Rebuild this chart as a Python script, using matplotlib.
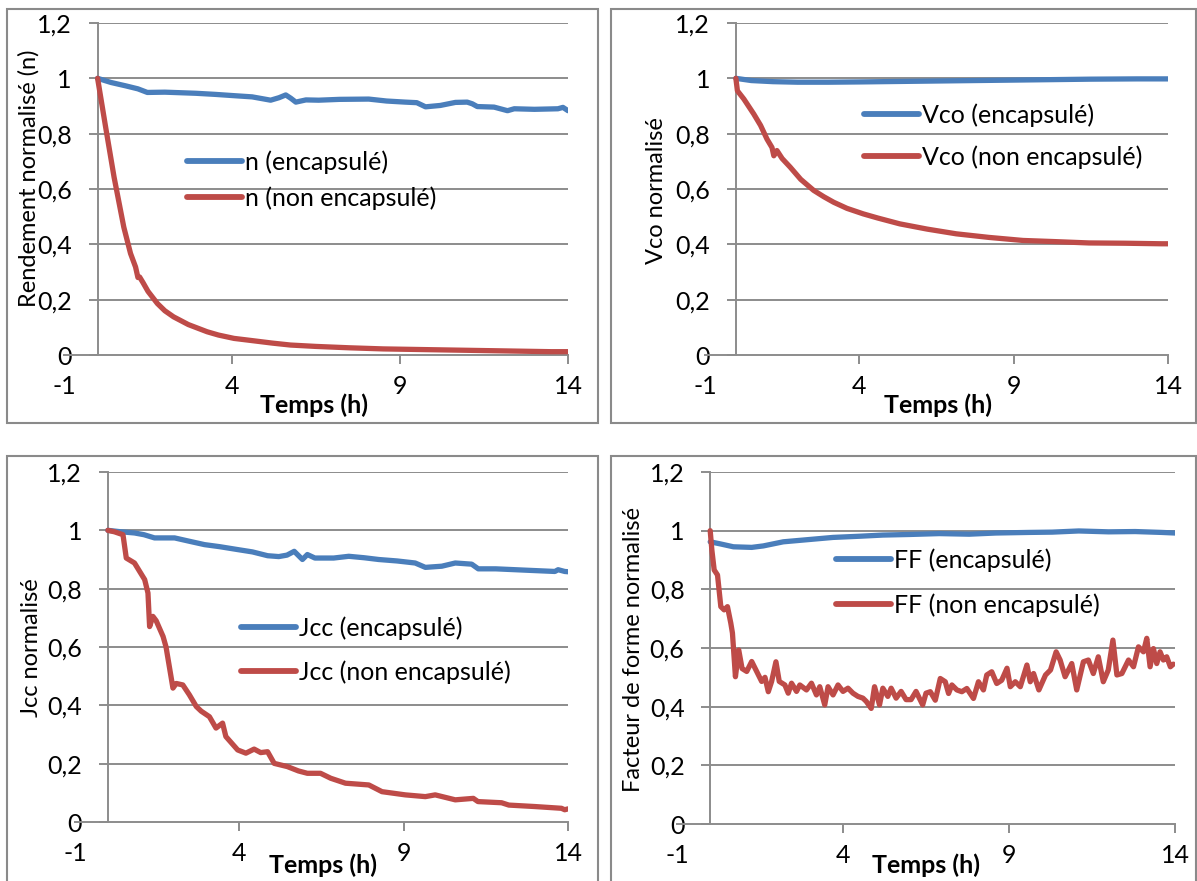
import matplotlib
matplotlib.use("Agg")
import matplotlib.pyplot as plt
from matplotlib.patches import Rectangle

plt.rcParams['font.family'] = ['Lato', 'DejaVu Sans']

BLUE = '#4a7ebb'
RED = '#be4b48'
GRID = '#8c8c8c'

# --- data (time in hours, normalised values) ---
n_enc_t = [0, 0.4, 0.83, 1.2, 1.48, 2.0, 2.92, 3.5, 4.1, 4.6, 5.15, 5.4, 5.6, 5.75, 5.9, 6.2, 6.58, 7.2, 8.07, 8.6, 9.16, 9.5, 9.76, 10.2, 10.65, 11.0, 11.15, 11.3, 11.8, 12.2, 12.4, 13.0, 13.7, 13.85, 14.0]
n_enc = [1.0, 0.985, 0.973, 0.962, 0.949, 0.950, 0.946, 0.942, 0.937, 0.933, 0.921, 0.930, 0.940, 0.928, 0.914, 0.922, 0.921, 0.924, 0.925, 0.918, 0.914, 0.912, 0.897, 0.902, 0.913, 0.914, 0.908, 0.898, 0.896, 0.883, 0.890, 0.888, 0.890, 0.895, 0.883]
n_non_t = [0, 0.24, 0.49, 0.78, 0.98, 1.13, 1.2, 1.25, 1.35, 1.5, 1.78, 2.0, 2.26, 2.7, 3.26, 3.6, 4.06, 4.6, 5.2, 5.74, 6.5, 7.5, 8.5, 9.5, 10.5, 11.5, 12.5, 13.5, 14.0]
n_non = [1.0, 0.823, 0.643, 0.462, 0.367, 0.318, 0.28, 0.282, 0.262, 0.23, 0.186, 0.16, 0.138, 0.11, 0.084, 0.072, 0.060, 0.052, 0.043, 0.036, 0.031, 0.026, 0.022, 0.020, 0.018, 0.016, 0.014, 0.012, 0.012]

vco_enc_t = [0, 0.5, 1.2, 2.0, 3.0, 4.0, 5.5, 7.0, 8.5, 10.0, 11.5, 13.0, 14.0]
vco_enc = [1.0, 0.992, 0.988, 0.986, 0.986, 0.987, 0.989, 0.991, 0.993, 0.995, 0.997, 0.998, 0.998]
vco_non_t = [0, 0.05, 0.26, 0.58, 0.8, 1.01, 1.17, 1.23, 1.33, 1.5, 1.76, 2.1, 2.52, 2.85, 3.17, 3.6, 4.13, 4.6, 5.31, 6.2, 7.14, 8.2, 9.3, 10.3, 11.44, 12.6, 13.8, 14.0]
vco_non = [1.0, 0.955, 0.925, 0.871, 0.83, 0.78, 0.75, 0.72, 0.739, 0.71, 0.679, 0.635, 0.595, 0.572, 0.552, 0.53, 0.51, 0.495, 0.474, 0.455, 0.438, 0.425, 0.414, 0.41, 0.405, 0.404, 0.402, 0.402]

jcc_enc_t = [0, 0.4, 0.81, 1.1, 1.42, 2.03, 2.5, 2.94, 3.4, 3.95, 4.4, 4.86, 5.2, 5.45, 5.67, 5.92, 6.07, 6.3, 6.87, 7.33, 7.8, 8.24, 8.8, 9.35, 9.66, 10.16, 10.57, 11.07, 11.27, 11.8, 12.79, 13.6, 13.7, 13.9, 14.0]
jcc_enc = [1.0, 0.995, 0.991, 0.985, 0.974, 0.974, 0.962, 0.951, 0.944, 0.934, 0.926, 0.913, 0.91, 0.915, 0.928, 0.90, 0.917, 0.905, 0.905, 0.911, 0.906, 0.90, 0.895, 0.888, 0.873, 0.877, 0.888, 0.884, 0.868, 0.868, 0.863, 0.859, 0.865, 0.859, 0.858]
jcc_non_t = [0, 0.2, 0.46, 0.56, 0.81, 1.12, 1.22, 1.27, 1.37, 1.47, 1.68, 1.77, 1.98, 2.08, 2.28, 2.48, 2.69, 2.84, 3.09, 3.29, 3.49, 3.59, 3.95, 4.2, 4.45, 4.65, 4.86, 5.06, 5.46, 5.8, 6.07, 6.47, 6.78, 7.23, 7.94, 8.34, 9.05, 9.66, 9.96, 10.57, 11.12, 11.26, 11.98, 12.2, 12.99, 13.8, 13.9, 14.0]
jcc_non = [1.0, 0.995, 0.985, 0.905, 0.888, 0.831, 0.785, 0.67, 0.705, 0.69, 0.636, 0.60, 0.459, 0.475, 0.47, 0.436, 0.396, 0.38, 0.361, 0.322, 0.339, 0.293, 0.247, 0.236, 0.25, 0.238, 0.241, 0.201, 0.19, 0.175, 0.167, 0.167, 0.15, 0.133, 0.127, 0.104, 0.093, 0.087, 0.093, 0.076, 0.081, 0.07, 0.066, 0.058, 0.053, 0.047, 0.042, 0.045]

ff_enc_t = [0, 0.3, 0.7, 1.25, 1.6, 2.2, 3.0, 3.7, 4.5, 5.2, 6.0, 6.9, 7.8, 8.6, 9.6, 10.3, 11.1, 12.0, 12.8, 13.6, 14.0]
ff_enc = [0.962, 0.955, 0.945, 0.943, 0.948, 0.962, 0.970, 0.977, 0.981, 0.985, 0.987, 0.99, 0.988, 0.992, 0.994, 0.995, 0.999, 0.996, 0.997, 0.994, 0.992]
ff_non_t = [0, 0.05, 0.12, 0.22, 0.32, 0.42, 0.52, 0.62, 0.67, 0.76, 0.86, 0.96, 1.1, 1.25, 1.4, 1.55, 1.65, 1.75, 1.85, 1.98, 2.08, 2.25, 2.35, 2.45, 2.6, 2.7, 2.9, 3.05, 3.2, 3.3, 3.45, 3.55, 3.7, 3.85, 4.0, 4.15, 4.3, 4.45, 4.6, 4.7, 4.85, 4.95, 5.1, 5.2, 5.35, 5.45, 5.6, 5.75, 5.9, 6.05, 6.2, 6.4, 6.5, 6.63, 6.78, 6.93, 7.08, 7.18, 7.28, 7.43, 7.58, 7.73, 7.93, 8.08, 8.23, 8.33, 8.48, 8.63, 8.78, 8.94, 9.04, 9.19, 9.34, 9.54, 9.64, 9.74, 9.9, 10.1, 10.25, 10.42, 10.54, 10.69, 10.89, 11.04, 11.24, 11.39, 11.54, 11.69, 11.84, 11.99, 12.13, 12.25, 12.4, 12.6, 12.75, 12.9, 13.05, 13.15, 13.25, 13.35, 13.45, 13.55, 13.65, 13.75, 13.86, 13.95]
ff_non = [1.0, 0.934, 0.866, 0.849, 0.741, 0.73, 0.741, 0.685, 0.651, 0.502, 0.593, 0.53, 0.52, 0.554, 0.52, 0.486, 0.50, 0.451, 0.486, 0.553, 0.486, 0.474, 0.446, 0.48, 0.452, 0.474, 0.457, 0.48, 0.44, 0.468, 0.406, 0.468, 0.44, 0.474, 0.452, 0.463, 0.446, 0.435, 0.429, 0.418, 0.394, 0.468, 0.406, 0.463, 0.435, 0.463, 0.429, 0.452, 0.424, 0.424, 0.452, 0.406, 0.446, 0.451, 0.422, 0.496, 0.485, 0.445, 0.474, 0.457, 0.451, 0.462, 0.428, 0.485, 0.457, 0.508, 0.519, 0.479, 0.49, 0.531, 0.468, 0.485, 0.468, 0.542, 0.485, 0.513, 0.457, 0.508, 0.525, 0.587, 0.559, 0.502, 0.547, 0.457, 0.553, 0.559, 0.513, 0.57, 0.485, 0.525, 0.627, 0.508, 0.513, 0.559, 0.536, 0.604, 0.587, 0.633, 0.536, 0.598, 0.547, 0.587, 0.559, 0.57, 0.536, 0.545]

x_ticks = [-1, 4, 9, 14]
x_labels = ['-1', '4', '9', '14']
y_ticks = [0, 0.2, 0.4, 0.6, 0.8, 1.0, 1.2]
y_labels = ['0', '0,2', '0,4', '0,6', '0,8', '1', '1,2']

W, H = 1197, 881
fig = plt.figure(figsize=(W / 100, H / 100), dpi=100)
FS = 18      # tick labels, legend, x title
FS_Y = 17    # y titles

# panel borders (pixel boxes)
for (x0, y0, x1, y1) in [(7, 9, 598, 423), (611, 9, 1196, 423), (7, 456, 598, 890), (611, 456, 1196, 890)]:
    fig.patches.append(Rectangle((x0 / W, 1 - y1 / H), (x1 - x0) / W, (y1 - y0) / H,
                                 transform=fig.transFigure, fill=False,
                                 edgecolor='#8a8a8a', linewidth=1.5))

panels = [
    # (axes px box, series, ylabel, ylabel pos, xlabel pos, legend anchor, labelspacing)
    ((64, 23, 568, 355), (n_enc_t, n_enc, 'n (encapsulé)'), (n_non_t, n_non, 'n (non encapsulé)'),
     'Rendement normalisé (n)', (-0.069, 0.533), (0.496, -0.150), (0.244, 0.526), 0.5),
    ((705, 23, 1168, 355), (vco_enc_t, vco_enc, 'Vco (encapsulé)'), (vco_non_t, vco_non, 'Vco (non encapsulé)'),
     'Vco normalisé', (-0.104, 0.494), (0.503, -0.150), (0.343, 0.659), 0.72),
    ((75, 472, 568, 822), (jcc_enc_t, jcc_enc, 'Jcc (encapsulé)'), (jcc_non_t, jcc_non, 'Jcc (non encapsulé)'),
     'Jcc normalisé', (-0.089, 0.497), (0.503, -0.123), (0.337, 0.491), 0.8),
    ((677, 472, 1175, 824), (ff_enc_t, ff_enc, 'FF (encapsulé)'), (ff_non_t, ff_non, 'FF (non encapsulé)'),
     'Facteur de forme normalisé', (-0.088, 0.497), (0.500, -0.116), (0.319, 0.686), 0.84),
]

for box, enc, non, ylab, ylpos, xlpos, leg_anchor, lsp in panels:
    l, t, r, b = box
    ax = fig.add_axes([l / W, 1 - b / H, (r - l) / W, (b - t) / H])
    ax.set_xlim(-1, 14)
    ax.set_ylim(0, 1.2)

    # horizontal gridlines from the vertical axis to the right edge
    ax.hlines(y_ticks[1:], 0, 14, colors=GRID, linewidth=1.4, zorder=1)

    ax.plot(enc[0], enc[1], color=BLUE, linewidth=3.8, label=enc[2], zorder=3,
            solid_joinstyle='round', solid_capstyle='round')
    ax.plot(non[0], non[1], color=RED, linewidth=3.8, label=non[2], zorder=3,
            solid_joinstyle='round', solid_capstyle='round')

    for s in ['top', 'right']:
        ax.spines[s].set_visible(False)
    ax.spines['left'].set_position(('data', 0))
    ax.spines['left'].set_color(GRID)
    ax.spines['left'].set_linewidth(1.4)
    ax.spines['bottom'].set_color(GRID)
    ax.spines['bottom'].set_linewidth(1.4)

    ax.set_yticks(y_ticks)
    ax.set_yticklabels(y_labels)
    ax.set_xticks(x_ticks)
    ax.set_xticklabels(x_labels)
    ax.tick_params(axis='y', direction='out', length=6.5, width=1.4, color=GRID,
                   pad=12, labelsize=FS, labelcolor='black')
    ax.tick_params(axis='x', direction='out', length=6.5, width=1.4, color=GRID,
                   pad=8, labelsize=FS, labelcolor='black')
    ax.xaxis.get_major_ticks()[0].tick1line.set_visible(False)

    ax.set_ylabel(ylab, fontsize=FS_Y)
    ax.yaxis.set_label_coords(*ylpos)
    ax.yaxis.label.set_va('center')
    ax.set_xlabel('Temps (h)', fontsize=FS, fontweight='bold')
    ax.xaxis.set_label_coords(*xlpos)
    ax.xaxis.label.set_va('center')

    leg = ax.legend(loc='center left', bbox_to_anchor=leg_anchor, frameon=False,
                    fontsize=FS, borderpad=0, borderaxespad=0, handlelength=2.2,
                    handletextpad=0.12, labelspacing=lsp)
    for h in leg.get_lines():
        h.set_linewidth(4.2)

fig.savefig('out.png', dpi=100)
